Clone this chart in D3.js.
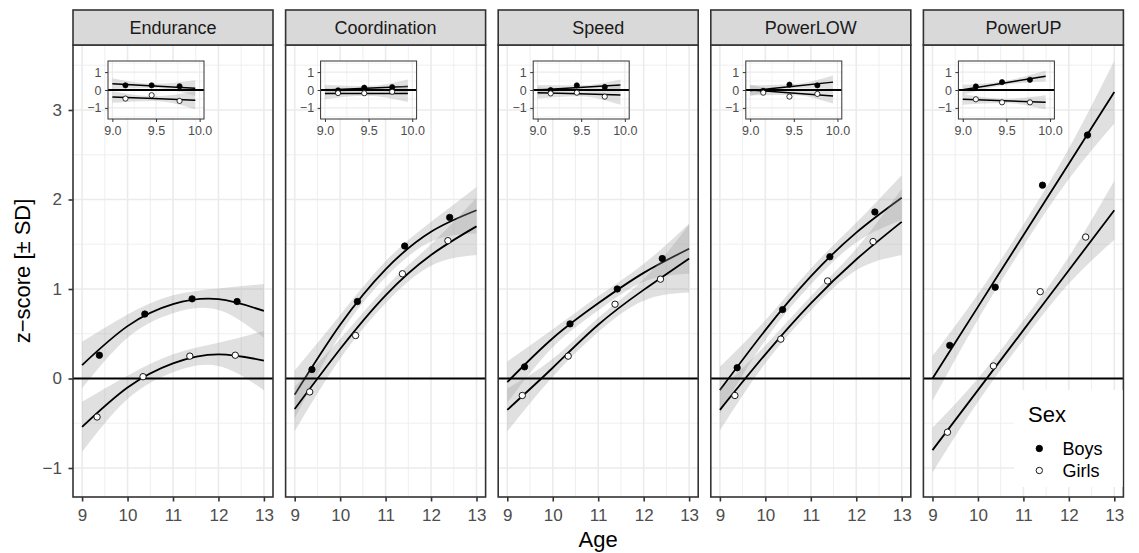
<!DOCTYPE html>
<html><head><meta charset="utf-8">
<script src="https://cdn.jsdelivr.net/npm/d3@7"></script>
<style>
body{margin:0;background:#fff}
svg{display:block}
text{font-family:"Liberation Sans",Arial,Helvetica,sans-serif}
</style>
</head><body>
<svg id="chart" width="1139" height="553"></svg>
<script>
// ---------- DATA ----------
const panels = ["Endurance","Coordination","Speed","PowerLOW","PowerUP"];
const ageTicks = [9,10,11,12,13];
const ageMinor = [9.5,10.5,11.5,12.5];
const zTicks = [-1,0,1,2,3];
const zMinor = [-0.5,0.5,1.5,2.5,3.5];
const zTickLabels = ["\u22121","0","1","2","3"];

// group means (dots)
const boysAges  = [9.38,10.38,11.42,12.41];
const girlsAges = [9.33,10.34,11.37,12.37];
const boysMeans = [
  [0.26,0.72,0.89,0.86],
  [0.10,0.86,1.48,1.80],
  [0.13,0.61,1.00,1.34],
  [0.12,0.77,1.36,1.86],
  [0.37,1.02,2.16,2.72]
];
const girlsMeans = [
  [-0.43,0.02,0.25,0.26],
  [-0.15,0.48,1.17,1.54],
  [-0.19,0.25,0.83,1.11],
  [-0.19,0.44,1.09,1.53],
  [-0.60,0.14,0.97,1.58]
];

// fitted curves read at ages 9..13
const fitAges = [9,10,11,12,13];
const boysFit = [
  [0.15,0.585,0.83,0.886,0.755],
  [-0.18,0.60,1.22,1.64,1.88],
  [-0.04,0.45,0.84,1.18,1.45],
  [-0.13,0.54,1.14,1.63,2.02],
  [0.00,0.80,1.60,2.40,3.20]
];
const girlsFit = [
  [-0.54,-0.10,0.17,0.27,0.20],
  [-0.34,0.33,0.93,1.38,1.70],
  [-0.35,0.12,0.60,0.99,1.34],
  [-0.35,0.27,0.84,1.33,1.75],
  [-0.80,-0.13,0.54,1.21,1.88]
];
// confidence band half-widths at the same ages
const boysBand = [
  [0.26,0.13,0.10,0.12,0.30],
  [0.27,0.11,0.09,0.11,0.26],
  [0.23,0.10,0.08,0.10,0.28],
  [0.26,0.11,0.09,0.11,0.25],
  [0.25,0.14,0.12,0.17,0.35]
];
const girlsBand = [
  [0.28,0.13,0.10,0.13,0.33],
  [0.25,0.11,0.09,0.12,0.32],
  [0.24,0.10,0.08,0.12,0.38],
  [0.23,0.10,0.08,0.12,0.37],
  [0.25,0.13,0.11,0.15,0.33]
];

// inset (baseline ages) data
const insetTicksX = [9.0,9.5,10.0];
const insetTickLabelsX = ["9.0","9.5","10.0"];
const insetTicksY = [-1,0,1];
const insetTickLabelsY = ["\u22121","0","1"];
const insetAges = [9.15,9.45,9.77];
const insetBoys = [
  [0.26,0.26,0.21],
  [-0.02,0.13,0.16],
  [0.00,0.26,0.17],
  [-0.05,0.30,0.26],
  [0.20,0.44,0.57]
];
const insetGirls = [
  [-0.48,-0.29,-0.61],
  [-0.17,-0.18,-0.10],
  [-0.19,-0.15,-0.37],
  [-0.15,-0.37,-0.22],
  [-0.52,-0.69,-0.69]
];
const insetFitAges = [9.0,9.475,9.95];
const insetBoysFit = [
  [0.35,0.225,0.10],
  [0.00,0.10,0.20],
  [0.00,0.14,0.28],
  [-0.04,0.20,0.44],
  [0.02,0.395,0.77]
];
const insetGirlsFit = [
  [-0.39,-0.48,-0.57],
  [-0.19,-0.19,-0.19],
  [-0.15,-0.215,-0.28],
  [0.00,-0.165,-0.33],
  [-0.52,-0.605,-0.69]
];
const insetBoysBand = [
  [0.30,0.12,0.44],
  [0.30,0.12,0.38],
  [0.28,0.11,0.30],
  [0.30,0.12,0.37],
  [0.28,0.11,0.30]
];
const insetGirlsBand = [
  [0.32,0.13,0.50],
  [0.32,0.13,0.48],
  [0.32,0.13,0.55],
  [0.30,0.12,0.43],
  [0.30,0.12,0.40]
];

const legendTitle = "Sex";
const legendLabels = ["Boys","Girls"];

// ---------- LAYOUT ----------
const svg = d3.select("#chart");
const panelW = 200, gap = 12.6, left0 = 73;
const pTop = 45, pBottom = 497, stripTop = 10;
const gridCol = "#ebebeb", borderCol = "#333333", tickCol = "#4d4d4d";
const bandFill = "#999999", bandOpacity = 0.3;
const defs = svg.append("defs");

const y = d3.scaleLinear().domain([-1.324,3.726]).range([pBottom,pTop]);

panels.forEach((name,i)=>{
  const L = left0 + i*(panelW+gap);
  const x = d3.scaleLinear().domain([8.8,13.2]).range([L,L+panelW]);
  const cid = "clipP"+i;
  defs.append("clipPath").attr("id",cid).append("rect")
    .attr("x",L).attr("y",pTop).attr("width",panelW).attr("height",pBottom-pTop);
  const g = svg.append("g");
  g.append("rect").attr("x",L).attr("y",pTop).attr("width",panelW).attr("height",pBottom-pTop).attr("fill","#fff");
  // grid
  const grid = g.append("g");
  ageMinor.forEach(v=>grid.append("line").attr("x1",x(v)).attr("x2",x(v)).attr("y1",pTop).attr("y2",pBottom).attr("stroke",gridCol).attr("stroke-width",0.8));
  zMinor.forEach(v=>grid.append("line").attr("y1",y(v)).attr("y2",y(v)).attr("x1",L).attr("x2",L+panelW).attr("stroke",gridCol).attr("stroke-width",0.8));
  ageTicks.forEach(v=>grid.append("line").attr("x1",x(v)).attr("x2",x(v)).attr("y1",pTop).attr("y2",pBottom).attr("stroke",gridCol).attr("stroke-width",1.6));
  zTicks.forEach(v=>grid.append("line").attr("y1",y(v)).attr("y2",y(v)).attr("x1",L).attr("x2",L+panelW).attr("stroke",gridCol).attr("stroke-width",1.6));

  const data = g.append("g").attr("clip-path",`url(#${cid})`);
  const series = [
    {fit:boysFit[i], band:boysBand[i]},
    {fit:girlsFit[i], band:girlsBand[i]}
  ];
  series.forEach(s=>{
    const pts = fitAges.map((a,k)=>({a, f:s.fit[k], h:s.band[k]}));
    data.append("path").datum(pts)
      .attr("d", d3.area().curve(d3.curveNatural).x(d=>x(d.a)).y0(d=>y(d.f-d.h)).y1(d=>y(d.f+d.h)))
      .attr("fill",bandFill).attr("fill-opacity",bandOpacity);
    data.append("path").datum(pts)
      .attr("d", d3.line().curve(d3.curveNatural).x(d=>x(d.a)).y(d=>y(d.f)))
      .attr("fill","none").attr("stroke","#000").attr("stroke-width",1.8);
  });
  data.append("line").attr("x1",L).attr("x2",L+panelW).attr("y1",y(0)).attr("y2",y(0))
    .attr("stroke","#000").attr("stroke-width",1.8);
  boysAges.forEach((a,k)=>data.append("circle").attr("cx",x(a)).attr("cy",y(boysMeans[i][k])).attr("r",3.2)
    .attr("fill","#000").attr("stroke","#000").attr("stroke-width",0.8));
  girlsAges.forEach((a,k)=>data.append("circle").attr("cx",x(a)).attr("cy",y(girlsMeans[i][k])).attr("r",3.2)
    .attr("fill","#fff").attr("stroke","#000").attr("stroke-width",0.9));

  // ---- inset ----
  const iL = L+35, iR = L+131, iT = 61, iB = 119;
  const ix = d3.scaleLinear().domain([8.95,10.05]).range([iL,iR]);
  const iy = d3.scaleLinear().domain([-1.62,1.62]).range([iB,iT]);
  const icid = "clipI"+i;
  defs.append("clipPath").attr("id",icid).append("rect").attr("x",iL).attr("y",iT).attr("width",iR-iL).attr("height",iB-iT);
  const ig = g.append("g");
  ig.append("rect").attr("x",iL).attr("y",iT).attr("width",iR-iL).attr("height",iB-iT).attr("fill","#fff");
  [9.25,9.75].forEach(v=>ig.append("line").attr("x1",ix(v)).attr("x2",ix(v)).attr("y1",iT).attr("y2",iB).attr("stroke",gridCol).attr("stroke-width",0.6));
  [-1.5,-0.5,0.5,1.5].forEach(v=>ig.append("line").attr("y1",iy(v)).attr("y2",iy(v)).attr("x1",iL).attr("x2",iR).attr("stroke",gridCol).attr("stroke-width",0.6));
  insetTicksX.forEach(v=>ig.append("line").attr("x1",ix(v)).attr("x2",ix(v)).attr("y1",iT).attr("y2",iB).attr("stroke",gridCol).attr("stroke-width",1.1));
  insetTicksY.forEach(v=>ig.append("line").attr("y1",iy(v)).attr("y2",iy(v)).attr("x1",iL).attr("x2",iR).attr("stroke",gridCol).attr("stroke-width",1.1));
  const idata = ig.append("g").attr("clip-path",`url(#${icid})`);
  [{fit:insetBoysFit[i],band:insetBoysBand[i]},{fit:insetGirlsFit[i],band:insetGirlsBand[i]}].forEach(s=>{
    const pts = insetFitAges.map((a,k)=>({a,f:s.fit[k],h:s.band[k]}));
    idata.append("path").datum(pts)
      .attr("d", d3.area().curve(d3.curveMonotoneX).x(d=>ix(d.a)).y0(d=>iy(d.f-d.h)).y1(d=>iy(d.f+d.h)))
      .attr("fill",bandFill).attr("fill-opacity",bandOpacity);
    idata.append("path").datum(pts)
      .attr("d", d3.line().x(d=>ix(d.a)).y(d=>iy(d.f)))
      .attr("fill","none").attr("stroke","#000").attr("stroke-width",1.5);
  });
  idata.append("line").attr("x1",iL).attr("x2",iR).attr("y1",iy(0)).attr("y2",iy(0)).attr("stroke","#000").attr("stroke-width",1.8);
  insetAges.forEach((a,k)=>idata.append("circle").attr("cx",ix(a)).attr("cy",iy(insetBoys[i][k])).attr("r",2.6)
    .attr("fill","#000").attr("stroke","#000").attr("stroke-width",0.7));
  insetAges.forEach((a,k)=>idata.append("circle").attr("cx",ix(a)).attr("cy",iy(insetGirls[i][k])).attr("r",2.6)
    .attr("fill","#fff").attr("stroke","#000").attr("stroke-width",0.8));
  ig.append("rect").attr("x",iL).attr("y",iT).attr("width",iR-iL).attr("height",iB-iT)
    .attr("fill","none").attr("stroke",borderCol).attr("stroke-width",1);
  const iax = ig.append("g").attr("transform",`translate(0,${iB})`)
    .call(d3.axisBottom(ix).tickValues(insetTicksX).tickFormat((d,k)=>insetTickLabelsX[k]).tickSize(3).tickPadding(4.5));
  const iay = ig.append("g").attr("transform",`translate(${iL},0)`)
    .call(d3.axisLeft(iy).tickValues(insetTicksY).tickFormat((d,k)=>insetTickLabelsY[k]).tickSize(3).tickPadding(3.5));
  [iax,iay].forEach(a=>{
    a.select(".domain").remove();
    a.selectAll(".tick line").attr("stroke",borderCol).attr("stroke-width",1);
    a.selectAll(".tick text").attr("fill",tickCol).style("font-size","12.5px").style("font-family",'"Liberation Sans",Arial,sans-serif');
  });

  // panel border
  g.append("rect").attr("x",L).attr("y",pTop).attr("width",panelW).attr("height",pBottom-pTop)
    .attr("fill","none").attr("stroke",borderCol).attr("stroke-width",1.6);
  // strip
  g.append("rect").attr("x",L).attr("y",stripTop).attr("width",panelW).attr("height",pTop-stripTop)
    .attr("fill","#d9d9d9").attr("stroke",borderCol).attr("stroke-width",1.6);
  g.append("text").attr("x",L+panelW/2).attr("y",34).attr("text-anchor","middle")
    .attr("fill","#1a1a1a").style("font-size","18px").text(name);

  // x axis
  const ax = g.append("g").attr("transform",`translate(0,${pBottom})`)
    .call(d3.axisBottom(x).tickValues(ageTicks).tickFormat(d3.format("d")).tickSize(4.5).tickPadding(7.5));
  ax.select(".domain").remove();
  ax.selectAll(".tick line").attr("stroke",borderCol).attr("stroke-width",1.6);
  ax.selectAll(".tick text").attr("fill",tickCol).style("font-size","17px").style("font-family",'"Liberation Sans",Arial,sans-serif');

  if(i===0){
    const ay = g.append("g").attr("transform",`translate(${L},0)`)
      .call(d3.axisLeft(y).tickValues(zTicks).tickFormat((d,k)=>zTickLabels[k]).tickSize(4.5).tickPadding(6.5));
    ay.select(".domain").remove();
    ay.selectAll(".tick line").attr("stroke",borderCol).attr("stroke-width",1.6);
    ay.selectAll(".tick text").attr("fill",tickCol).style("font-size","17px").style("font-family",'"Liberation Sans",Arial,sans-serif');
  }

  if(i===panels.length-1){
    // legend inside last panel
    const lg = g.append("g");
    lg.append("rect").attr("x",1014).attr("y",390).attr("width",L+panelW-1014-0.8).attr("height",97).attr("fill","#fff");
    lg.append("text").attr("x",1028).attr("y",421.5).attr("fill","#000").style("font-size","22px").text(legendTitle);
    const fills = ["#000","#fff"];
    legendLabels.forEach((lab,k)=>{
      const cy = 448.5 + k*22;
      lg.append("circle").attr("cx",1039.3).attr("cy",cy).attr("r",3.2).attr("fill",fills[k]).attr("stroke","#000").attr("stroke-width",0.9);
      lg.append("text").attr("x",1062.5).attr("y",cy+6.5).attr("fill","#000").style("font-size","18px").text(lab);
    });
  }
});

// axis titles
svg.append("text").attr("x",(left0 + left0+5*panelW+4*gap)/2).attr("y",547).attr("text-anchor","middle")
  .attr("fill","#000").style("font-size","22px").text("Age");
svg.append("text").attr("transform",`translate(30,${(pTop+pBottom)/2}) rotate(-90)`).attr("text-anchor","middle")
  .attr("fill","#000").style("font-size","22px").text("z\u2212score [\u00b1 SD]");
</script>
</body></html>
